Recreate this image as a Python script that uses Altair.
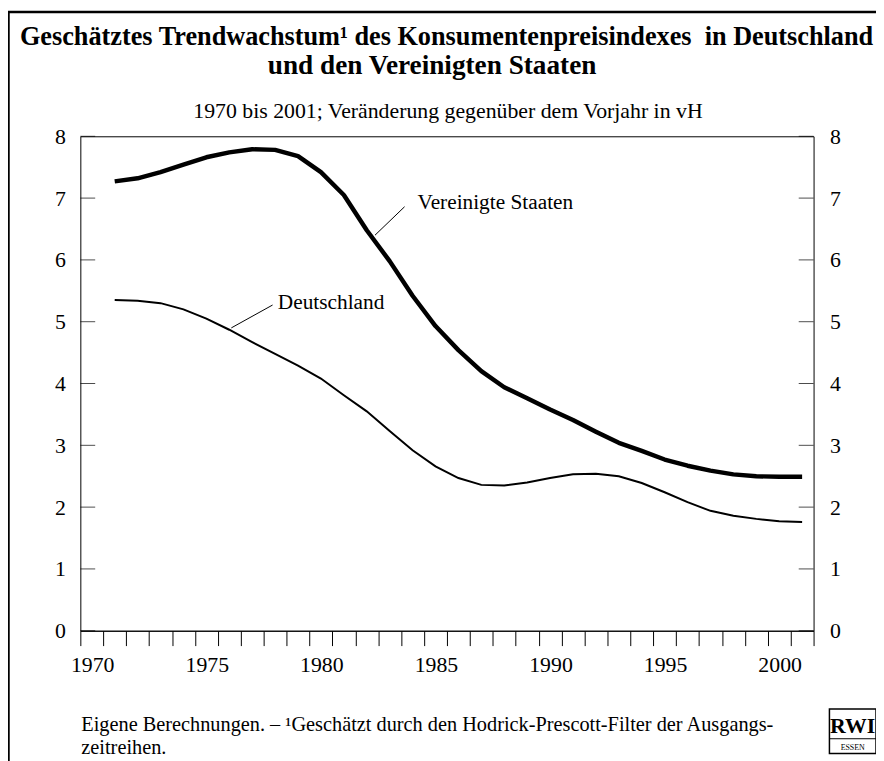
import altair as alt
import pandas as pd

# ---------------- data ----------------
years = list(range(1971, 2002))
us_values = [7.27, 7.32, 7.42, 7.54, 7.66, 7.74, 7.79, 7.78, 7.68, 7.42, 7.05,
             6.48, 5.98, 5.42, 4.93, 4.54, 4.20, 3.94, 3.76, 3.58, 3.41, 3.22,
             3.04, 2.91, 2.77, 2.67, 2.59, 2.53, 2.50, 2.49, 2.49]
de_values = [5.35, 5.34, 5.30, 5.20, 5.05, 4.87, 4.67, 4.48, 4.29, 4.08, 3.81,
             3.55, 3.23, 2.92, 2.66, 2.47, 2.36, 2.35, 2.40, 2.47, 2.53, 2.54,
             2.50, 2.39, 2.24, 2.08, 1.94, 1.86, 1.81, 1.77, 1.76]
series_names = ["Vereinigte Staaten", "Deutschland"]
x_tick_years = list(range(1970, 2003))
y_ticks = list(range(0, 9))

# label anchor (data coords) and leader line ends
label_names = ["Vereinigte Staaten", "Deutschland"]
label_x = [1984.72, 1978.62]
label_y = [6.82, 5.21]
leader_x1 = [1984.15, 1978.39]
leader_y1 = [6.86, 5.27]
leader_x2 = [1982.86, 1976.59]
leader_y2 = [6.40, 4.90]

title_line1 = "Geschätztes Trendwachstum¹ des Konsumentenpreisindexes\u00a0 in Deutschland"
title_line2 = "und den Vereinigten Staaten"
subtitle = "1970 bis 2001; Veränderung gegenüber dem Vorjahr in vH"
footer1 = "Eigene Berechnungen. – ¹Geschätzt durch den Hodrick-Prescott-Filter der Ausgangs-"
footer2 = "zeitreihen."

FONT = "Liberation Serif"
W, H = 740, 499

df = pd.DataFrame({
    "year": years * 2,
    "value": us_values + de_values,
    "series": [series_names[0]] * len(years) + [series_names[1]] * len(years),
})
ann = pd.DataFrame({"name": label_names, "lx": label_x, "ly": label_y,
                    "x1": leader_x1, "y1": leader_y1, "x2": leader_x2, "y2": leader_y2})
ticks_df = pd.DataFrame({"v": y_ticks})

xscale = alt.Scale(domain=[1970, 2002], nice=False, zero=False)
yscale = alt.Scale(domain=[0, 8], nice=False, zero=False)

base = alt.Chart(df).transform_calculate(xpos="datum.year + 0.5")

us_line = base.transform_filter(alt.datum.series == series_names[0]).mark_line(
    color="black", strokeWidth=4.5, strokeJoin="round").encode(
    x=alt.X("xpos:Q", scale=xscale, axis=alt.Axis(
        orient="bottom", values=x_tick_years, format="d",
        labelExpr="datum.value % 5 == 0 && datum.value <= 2000 ? datum.label : ''",
        tickSize=15, tickColor="black", tickWidth=1, domainColor="black", domainWidth=1,
        labelFont=FONT, labelFontSize=22, labelColor="black", labelPadding=9,
        labelOffset=12, labelOverlap=False, labelFlush=False, grid=False, title=None)),
    y=alt.Y("value:Q", scale=yscale, axis=alt.Axis(
        orient="left", values=y_ticks, ticks=False, domain=False, grid=False,
        labelFont=FONT, labelFontSize=22, labelColor="black", labelPadding=15,
        title=None)),
)

de_line = base.transform_filter(alt.datum.series == series_names[1]).mark_line(
    color="black", strokeWidth=2).encode(
    x=alt.X("xpos:Q", scale=xscale, axis=None),
    y=alt.Y("value:Q", scale=yscale, axis=None),
)

left_ticks = alt.Chart(ticks_df).mark_tick(orient="horizontal", size=15, thickness=1,
                                           color="black").encode(
    y=alt.Y("v:Q", scale=yscale, axis=None), x=alt.value(7.5))

right_ticks = alt.Chart(ticks_df).mark_tick(orient="horizontal", size=15, thickness=1,
                                            color="black").encode(
    y=alt.Y("v:Q", scale=yscale, axis=alt.Axis(
        orient="right", values=y_ticks, ticks=False, domain=False, grid=False,
        labelFont=FONT, labelFontSize=22, labelColor="black", labelPadding=16,
        title=None)),
    x=alt.value(W - 7.5))

leaders = alt.Chart(ann).mark_rule(color="black", strokeWidth=1).encode(
    x=alt.X("x1:Q", scale=xscale, axis=None), x2="x2:Q",
    y=alt.Y("y1:Q", scale=yscale, axis=None), y2="y2:Q")

labels = alt.Chart(ann).mark_text(align="left", baseline="alphabetic", font=FONT,
                                  fontSize=21.5, color="black").encode(
    x=alt.X("lx:Q", scale=xscale, axis=None),
    y=alt.Y("ly:Q", scale=yscale, axis=None), text="name:N")


def px_text(txt, x, y, size, align="left", weight="normal"):
    return alt.Chart(pd.DataFrame({"t": [txt]})).mark_text(
        align=align, baseline="alphabetic", font=FONT, fontSize=size,
        fontWeight=weight, color="black").encode(
        text="t:N", x=alt.value(x), y=alt.value(y))


def px_rect(x, x2, y, y2, sw):
    return alt.Chart(pd.DataFrame({"a": [0]})).mark_rect(
        filled=False, stroke="black", strokeWidth=sw, fill=None).encode(
        x=alt.value(x), x2=alt.value(x2), y=alt.value(y), y2=alt.value(y2))


def px_rule(x, x2, y, y2, sw):
    return alt.Chart(pd.DataFrame({"a": [0]})).mark_rule(
        stroke="black", strokeWidth=sw).encode(
        x=alt.value(x), x2=alt.value(x2), y=alt.value(y), y2=alt.value(y2))


frame = px_rect(-72.5, 900, -125.5, 800, 2.5)
t1 = px_text(title_line1, -61, -92, 26.5, "left", "bold")
t2 = px_text(title_line2, 355, -63, 27.5, "center", "bold")
st = px_text(subtitle, 371, -18, 22, "center")
f1 = px_text(footer1, 1, 600, 20.5, "left")
f2 = px_text(footer2, 1, 623, 20.5, "left")
logo_box = px_rect(756, 803, 578, 623, 1.5)
logo_line = px_rule(756, 803, 608, 608, 1)
logo_t = px_text("RWI", 779.5, 602, 22, "center", "bold")
logo_s = px_text("ESSEN", 779.5, 619, 8, "center")

chart = alt.layer(
    us_line, de_line, left_ticks, right_ticks, leaders, labels,
    frame, t1, t2, st, f1, f2, logo_box, logo_line, logo_t, logo_s
).resolve_axis(x="independent", y="independent").properties(
    width=W, height=H,
    autosize=alt.AutoSizeParams(type="none"),
    padding={"left": 73, "top": 126, "right": 63, "bottom": 128},
    background="white",
).configure_view(stroke="black", strokeWidth=1)

chart.save("out.html", embed_options={"renderer": "svg", "actions": False})
